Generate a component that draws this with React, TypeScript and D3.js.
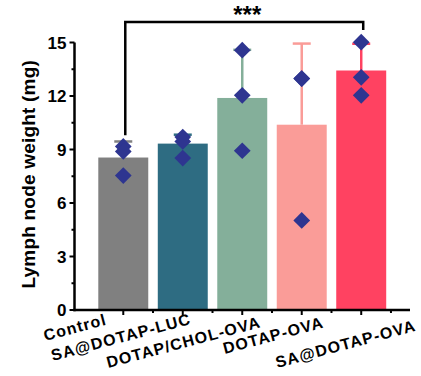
import { useEffect, useRef } from 'react';
import * as d3 from 'd3';

const groups = ['Control', 'SA@DOTAP-LUC', 'DOTAP/CHOL-OVA', 'DOTAP-OVA', 'SA@DOTAP-OVA'];
const means = [8.55, 9.33, 11.89, 10.39, 13.43];
const errors = [0.9, 0.5, 2.7, 4.55, 1.5];
const points = [
  [9.17, 8.89, 7.54],
  [9.7, 9.45, 8.52],
  [14.57, 12.04, 8.93],
  [12.98, 12.98, 5.02],
  [15.02, 13.05, 12.04],
];
const yTicks = [0, 3, 6, 9, 12, 15];
const colors = ['#808080', '#2E6C82', '#84AF9A', '#FA9C98', '#FF4261'];
const yLabel = 'Lymph node weight (mg)';
const sigLabel = '***';

const WIDTH = 421;
const HEIGHT = 376;

export default function App() {
  const svgRef = useRef<SVGSVGElement>(null);

  useEffect(() => {
    if (!svgRef.current) return;
    const svg = d3.select(svgRef.current);
    svg.selectAll('*').remove();

    const font = 'Arial, "Liberation Sans", sans-serif';
    const x = d3.scaleLinear().domain([0.18, 5.82]).range([74.5, 410]);
    const y = d3.scaleLinear().domain([0, 15]).range([310, 42.5]);
    const barW = (x(1) - x(0)) * 0.84;

    // bars
    svg.selectAll('.bar')
      .data(means)
      .enter()
      .append('rect')
      .attr('x', (d, i) => x(i + 1) - barW / 2)
      .attr('y', d => y(d))
      .attr('width', barW)
      .attr('height', d => y(0) - y(d))
      .attr('fill', (d, i) => colors[i]);

    // upper error bars
    means.forEach((m, i) => {
      const cx = x(i + 1);
      const top = y(m + errors[i]);
      svg.append('line')
        .attr('x1', cx).attr('x2', cx)
        .attr('y1', y(m)).attr('y2', top)
        .attr('stroke', colors[i]).attr('stroke-width', 2.5);
      svg.append('line')
        .attr('x1', cx - 9).attr('x2', cx + 9)
        .attr('y1', top).attr('y2', top)
        .attr('stroke', colors[i]).attr('stroke-width', 2.5);
    });

    // diamonds
    const diamond = d3.symbol().type(d3.symbolSquare).size(140);
    points.forEach((arr, i) => {
      svg.selectAll(null)
        .data(arr)
        .enter()
        .append('path')
        .attr('d', diamond)
        .attr('transform', d => `translate(${x(i + 1)},${y(d)}) rotate(45)`)
        .attr('fill', '#2E3590');
    });

    // y axis
    svg.append('line')
      .attr('x1', x(0.18)).attr('x2', x(0.18))
      .attr('y1', y(15)).attr('y2', y(0) + 1.2)
      .attr('stroke', '#000').attr('stroke-width', 2.5);
    yTicks.forEach(t => {
      svg.append('line')
        .attr('x1', x(0.18) - 5).attr('x2', x(0.18))
        .attr('y1', y(t)).attr('y2', y(t))
        .attr('stroke', '#000').attr('stroke-width', 2);
      svg.append('text')
        .attr('x', x(0.18) - 8)
        .attr('y', y(t))
        .attr('dy', '0.36em')
        .attr('text-anchor', 'end')
        .attr('font-family', font)
        .attr('font-weight', 700)
        .attr('font-size', 17)
        .text(t);
    });
    d3.range(1.5, 15, 3).forEach(t => {
      svg.append('line')
        .attr('x1', x(0.18) - 3).attr('x2', x(0.18))
        .attr('y1', y(t)).attr('y2', y(t))
        .attr('stroke', '#000').attr('stroke-width', 2);
    });

    // x axis
    svg.append('line')
      .attr('x1', x(0.18) - 1.2).attr('x2', x(5.82))
      .attr('y1', y(0)).attr('y2', y(0))
      .attr('stroke', '#000').attr('stroke-width', 2.5);
    groups.forEach((g, i) => {
      svg.append('line')
        .attr('x1', x(i + 1)).attr('x2', x(i + 1))
        .attr('y1', y(0)).attr('y2', y(0) + 5)
        .attr('stroke', '#000').attr('stroke-width', 2);
    });
    d3.range(1.5, 6, 1).forEach(t => {
      svg.append('line')
        .attr('x1', x(t)).attr('x2', x(t))
        .attr('y1', y(0)).attr('y2', y(0) + 3)
        .attr('stroke', '#000').attr('stroke-width', 2);
    });

    // x labels, hand-placed like the original (start offset from tick)
    const labelOffsets = [[-78, 31], [-130, 51], [-134, 58], [-77, 44], [-84, 58]];
    groups.forEach((g, i) => {
      const lx = x(i + 1) + labelOffsets[i][0];
      const ly = y(0) + labelOffsets[i][1];
      svg.append('text')
        .attr('transform', `translate(${lx},${ly}) rotate(-15)`)
        .attr('text-anchor', 'start')
        .attr('font-family', font)
        .attr('font-weight', 700)
        .attr('font-size', 16)
        .attr('letter-spacing', 1.1)
        .text(g);
    });

    // y label
    svg.append('text')
      .attr('transform', `translate(35,${(y(0) + y(15)) / 2 - 2}) rotate(-90)`)
      .attr('text-anchor', 'middle')
      .attr('font-family', font)
      .attr('font-weight', 700)
      .attr('font-size', 19)
      .attr('letter-spacing', 0.2)
      .text(yLabel);

    // significance bracket
    const bx1 = x(1) + 2;
    const bx2 = x(5) + 2;
    svg.append('path')
      .attr('d', `M${bx1},${y(9.8)} V${y(16.15)} H${bx2} V${y(15.7)}`)
      .attr('fill', 'none')
      .attr('stroke', '#000')
      .attr('stroke-width', 2.5);
    svg.append('text')
      .attr('x', (bx1 + bx2) / 2 + 3)
      .attr('y', 23)
      .attr('text-anchor', 'middle')
      .attr('font-family', font)
      .attr('font-weight', 700)
      .attr('font-size', 24)
      .text(sigLabel);
  }, []);

  return (
    <svg
      ref={svgRef}
      width={WIDTH}
      height={HEIGHT}
      style={{ position: 'absolute', left: 0, top: 0, background: '#fff' }}
    />
  );
}
